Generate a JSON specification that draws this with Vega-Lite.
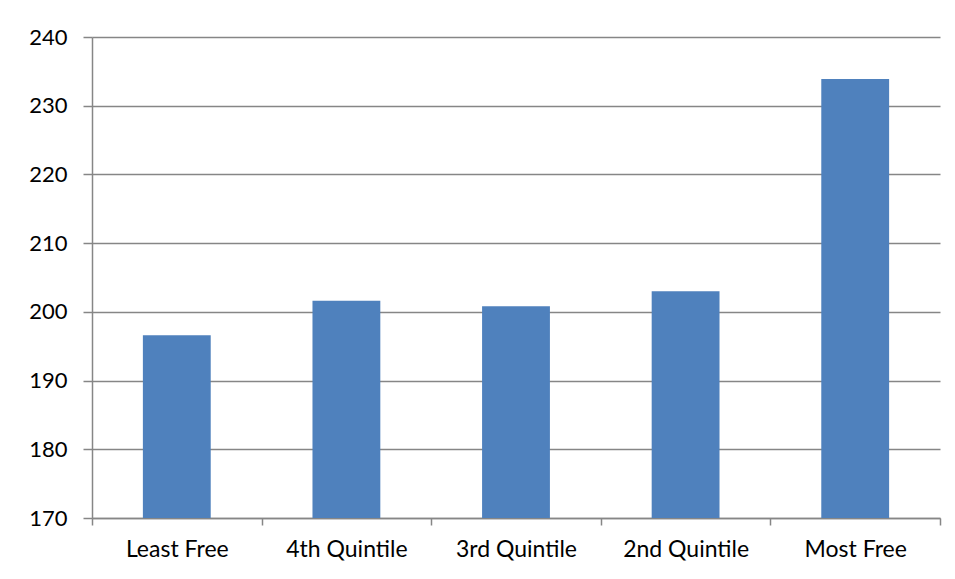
{
  "$schema": "https://vega.github.io/schema/vega-lite/v6.json",
  "autosize": "none",
  "width": 848,
  "height": 481,
  "padding": {"left": 92, "top": 37, "right": 15, "bottom": 61},
  "background": "white",
  "config": {"view": {"stroke": null}, "font": "Lato"},
  "data": {"values": [
    {"group": "Least Free", "value": 196.6},
    {"group": "4th Quintile", "value": 201.6},
    {"group": "3rd Quintile", "value": 200.8},
    {"group": "2nd Quintile", "value": 203.0},
    {"group": "Most Free", "value": 233.9}
  ]},
  "mark": {"type": "bar", "color": "#4F81BD", "clip": true, "width": {"band": 0.4}},
  "encoding": {
    "x": {
      "field": "group", "type": "nominal", "sort": null,
      "scale": {"paddingInner": 0, "paddingOuter": 0},
      "axis": {
        "title": null, "labelAngle": 0, "labelFont": "Lato", "labelFontSize": 23,
        "labelColor": "#000000", "labelPadding": 13,
        "tickBand": "extent", "tickSize": 7, "tickColor": "#868686", "tickWidth": 1.5,
        "domainColor": "#868686", "domainWidth": 1.5
      }
    },
    "y": {
      "field": "value", "type": "quantitative",
      "scale": {"domain": [170, 240], "nice": false, "zero": false},
      "axis": {
        "title": null, "values": [170, 180, 190, 200, 210, 220, 230, 240],
        "labelFont": "Lato", "labelFontSize": 22, "labelColor": "#000000",
        "labelPadding": 16, "tickSize": 9, "tickColor": "#868686", "tickWidth": 1.5,
        "domainColor": "#868686", "domainWidth": 1.5,
        "grid": true, "gridColor": "#868686", "gridWidth": 1.5
      }
    }
  }
}
